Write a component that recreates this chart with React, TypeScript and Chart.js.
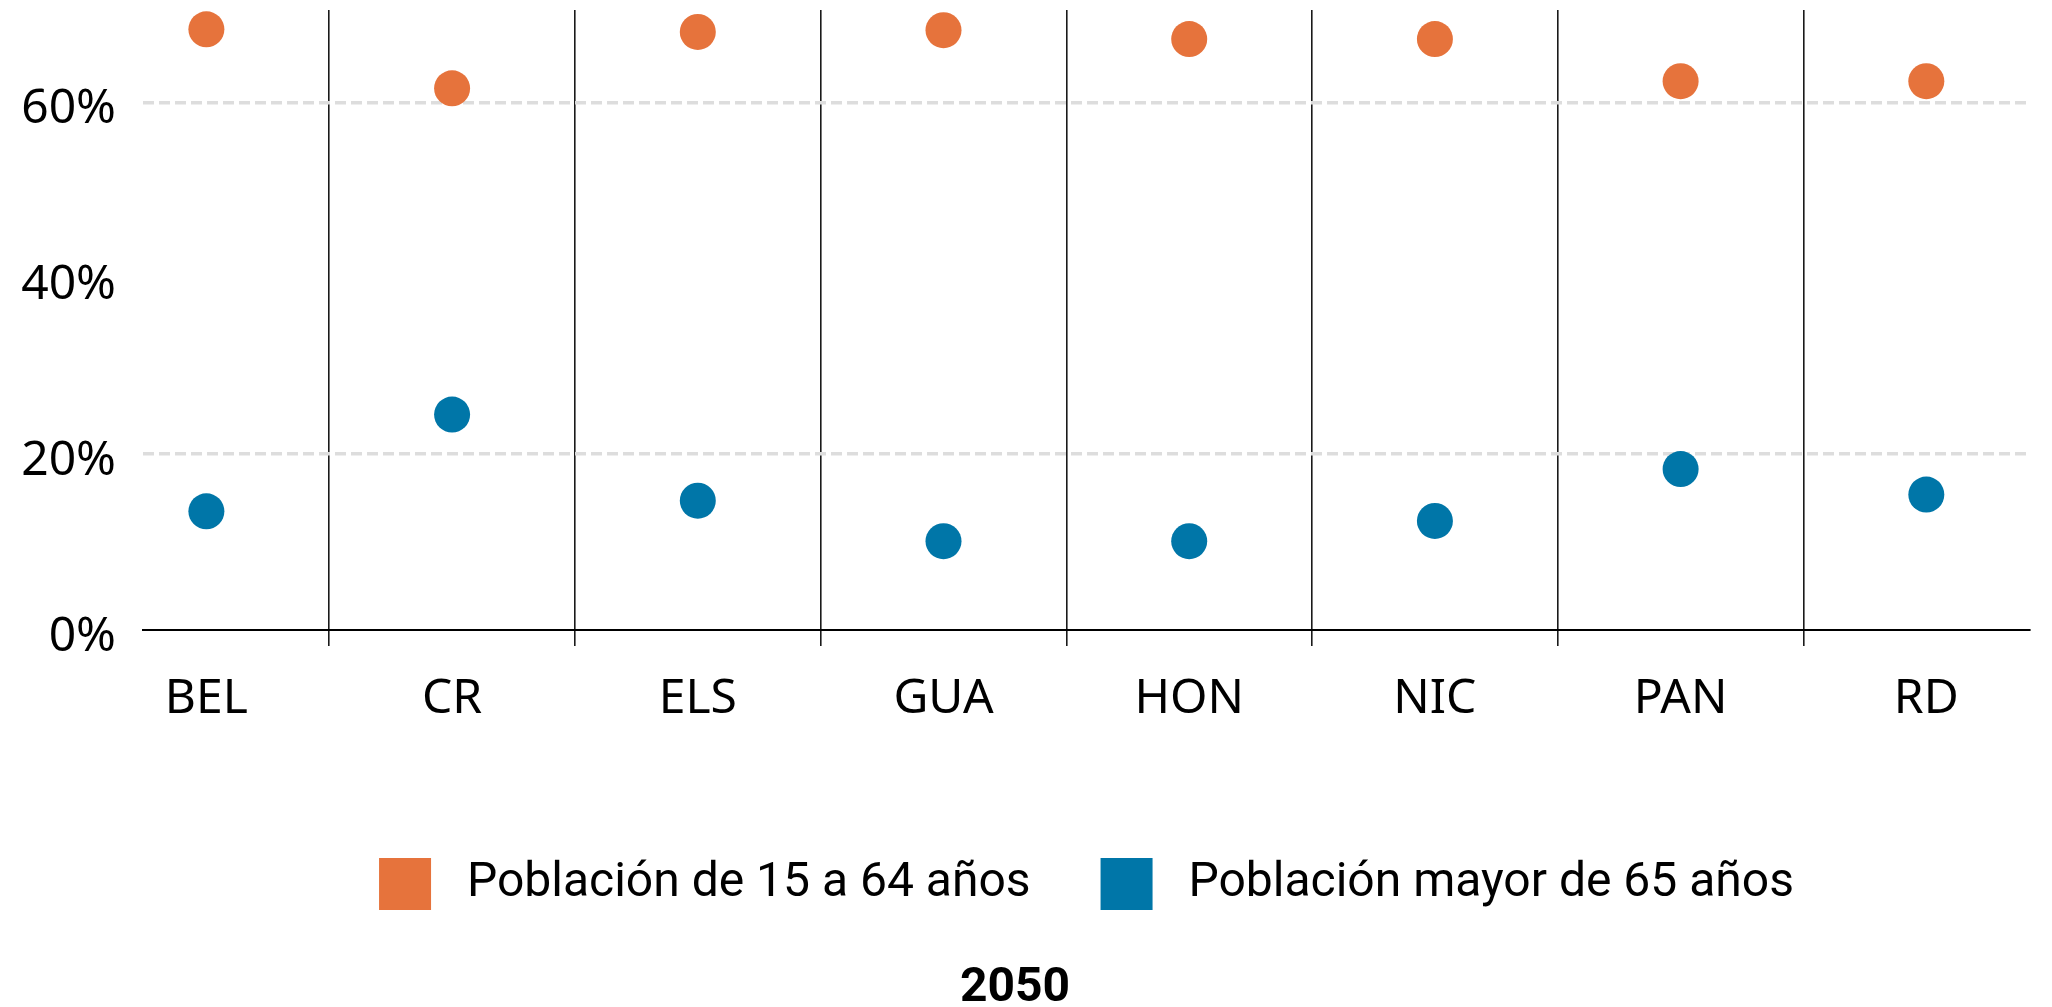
import { useEffect, useRef } from 'react';
import { Chart, registerables } from 'chart.js';

Chart.register(...registerables);

// ---- data ----
const categories = ['BEL', 'CR', 'ELS', 'GUA', 'HON', 'NIC', 'PAN', 'RD'];
const pop15to64 = [68.3, 61.6, 68.0, 68.2, 67.2, 67.2, 62.4, 62.4];
const pop65plus = [13.5, 24.5, 14.7, 10.1, 10.1, 12.4, 18.3, 15.4];
const seriesLabels = ['Población de 15 a 64 años', 'Población mayor de 65 años'];
const yTickValues = [0, 20, 40, 60];
const yGridValues = [20, 60];
const chartTitle = '2050';

const ORANGE = '#E6733C';
const BLUE = '#0076A8';

export default function App() {
  const ref = useRef<HTMLCanvasElement>(null);

  useEffect(() => {
    const canvas = ref.current;
    if (!canvas) return;
    const toPoints = (vals: number[]) => vals.map((v, i) => ({ x: i, y: v }));
    const isBoundary = (v: any) => typeof v === 'number' && !Number.isInteger(v);

    const chart = new Chart(canvas, {
      type: 'scatter',
      data: {
        datasets: [
          {
            label: seriesLabels[0],
            data: toPoints(pop15to64),
            backgroundColor: ORANGE,
            borderColor: ORANGE,
            borderWidth: 0,
            pointRadius: 18,
            pointHoverRadius: 18,
            clip: false,
          },
          {
            label: seriesLabels[1],
            data: toPoints(pop65plus),
            backgroundColor: BLUE,
            borderColor: BLUE,
            borderWidth: 0,
            pointRadius: 18,
            pointHoverRadius: 18,
            clip: false,
          },
        ],
      },
      options: {
        animation: false,
        responsive: false,
        events: [],
        layout: { autoPadding: false, padding: { top: 10, right: 22, bottom: 0, left: 0 } },
        scales: {
          x: {
            type: 'linear',
            min: -0.258,
            max: 7.422,
            afterBuildTicks: (axis: any) => {
              const t: any[] = [];
              categories.forEach((_, i) => {
                t.push({ value: i });
                if (i < categories.length - 1) t.push({ value: i + 0.5 });
              });
              axis.ticks = t;
            },
            afterFit: (axis: any) => {
              axis.height = 158;
              axis.paddingLeft = 0;
              axis.paddingRight = 0;
            },
            ticks: {
              autoSkip: false,
              maxRotation: 0,
              minRotation: 0,
              padding: 25,
              color: '#000',
              font: { family: "'Noto Sans'", size: 48 },
              callback: (v: any) => (Number.isInteger(v) ? categories[v] : ''),
            },
            grid: {
              color: (ctx: any) => (isBoundary(ctx.tick?.value) ? '#1a1a1a' : 'rgba(0,0,0,0)'),
              lineWidth: 1.6,
              tickLength: 16,
              drawTicks: true,
            },
            border: { display: true, color: '#000', width: 2 },
          },
          y: {
            type: 'linear',
            min: 0,
            max: 70.5,
            afterBuildTicks: (axis: any) => {
              axis.ticks = yTickValues.map((v) => ({ value: v }));
            },
            afterFit: (axis: any) => {
              axis.width = 143;
              axis.paddingTop = 0;
              axis.paddingBottom = 0;
            },
            ticks: {
              padding: 27,
              labelOffset: 7,
              color: '#000',
              font: { family: "'Noto Sans'", size: 48 },
              callback: (v: any) => v + '%',
            },
            grid: {
              drawTicks: false,
              color: (ctx: any) =>
                yGridValues.includes(ctx.tick?.value) ? '#DDDDDD' : 'rgba(0,0,0,0)',
              lineWidth: 3.5,
            },
            border: { display: false, dash: [11, 5] },
          },
        },
        plugins: {
          tooltip: { enabled: false },
          legend: {
            display: true,
            position: 'bottom',
            fullSize: false,
            labels: {
              boxWidth: 52,
              boxHeight: 52,
              padding: 70,
              color: '#000',
              font: { family: 'Roboto', size: 48 },
              generateLabels: (c: any) =>
                (Chart.defaults.plugins.legend.labels as any)
                  .generateLabels(c)
                  .map((l: any) => ({
                    ...l,
                    text: ' ' + l.text,
                    lineWidth: 0,
                    strokeStyle: 'rgba(0,0,0,0)',
                  })),
            },
          },
          title: {
            display: true,
            text: chartTitle,
            position: 'bottom',
            color: '#000',
            font: { family: 'Roboto', size: 48, weight: 'bold', lineHeight: 0.75 },
            padding: { top: 51, bottom: 0 },
          },
        },
      } as any,
    });

    return () => chart.destroy();
  }, []);

  return (
    <div style={{ position: 'absolute', left: 0, top: 0, width: 2052, height: 1007 }}>
      <canvas ref={ref} width={2052} height={1007} style={{ display: 'block' }} />
    </div>
  );
}
